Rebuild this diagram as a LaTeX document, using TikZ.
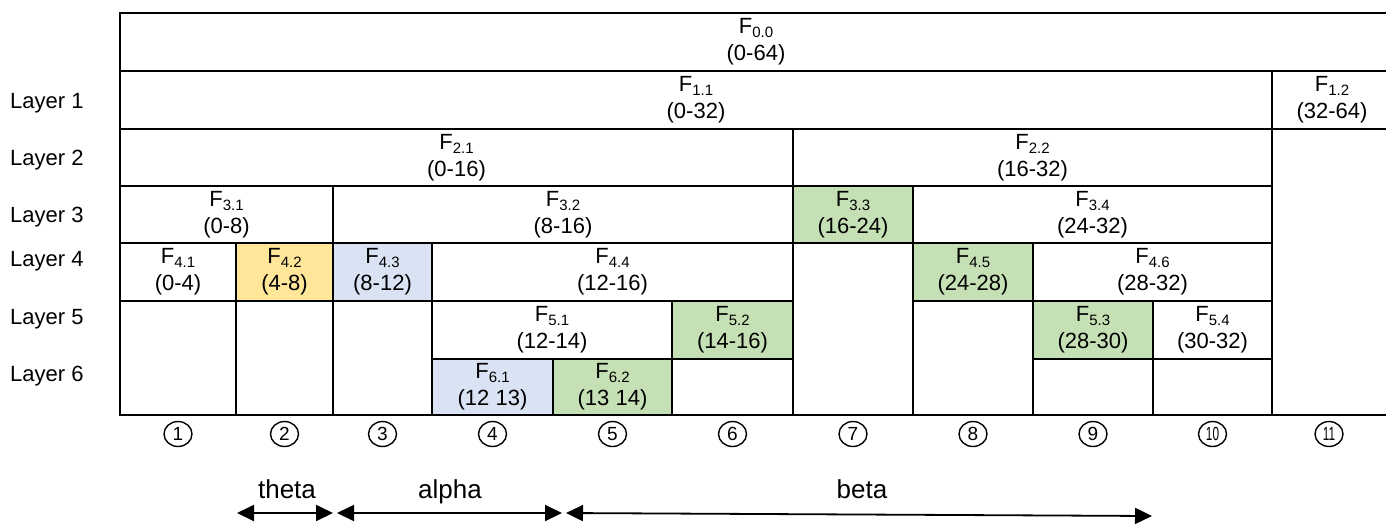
\documentclass[tikz,border=0pt]{standalone}
\usepackage{fontspec}
\setmainfont{Liberation Sans}
\usetikzlibrary{arrows.meta,shapes.geometric}

\definecolor{cellyellow}{HTML}{FFE699}
\definecolor{cellblue}{HTML}{DAE3F3}
\definecolor{cellgreen}{HTML}{C5E0B4}

% frame label with lowered index, e.g. F_{3.1}
\newcommand\Fsub[1]{F\raisebox{-4pt}{\fontsize{15}{15}\selectfont #1}}
% \cellat{name}{x1}{y1}{x2}{y2}{extra style}{text}
\newcommand\cellat[7]{%
  \node[cellbox,#6,minimum width={#4-#2},minimum height={#5-#3}] (#1)
    at ({(#2+#4)/2},{(#3+#5)/2}) {#7};}

\tikzset{
  cellbox/.style={rectangle, draw=black, line width=2.7pt, fill=white,
    inner sep=0pt, outer sep=0pt, align=center,
    font=\fontsize{22}{27}\selectfont},
  yel/.style={fill=cellyellow},
  blu/.style={fill=cellblue},
  grn/.style={fill=cellgreen},
  layerlab/.style={anchor=base west, inner sep=0pt, font=\fontsize{22}{26}\selectfont},
  numc/.style={ellipse, draw=black, line width=1.4pt, minimum width=28pt,
    minimum height=25pt, inner sep=0pt, font=\fontsize{19}{19}\selectfont},
  spanlab/.style={anchor=base, inner sep=0pt, font=\fontsize{26}{30}\selectfont},
  span/.style={line width=1.8pt,
    {Triangle[length=17pt,width=16pt]}-{Triangle[length=17pt,width=16pt]}},
}

\begin{document}
\begin{tikzpicture}[x=1pt,y=-1pt]
\fill[white] (0,0) rectangle (1386,523);
\useasboundingbox (0,0) rectangle (1386,523);

% level 0 and layer 1
\cellat{f00}{120}{13}{1392}{71}{}{\Fsub{0.0}\\(0-64)}
\cellat{f11}{120}{71}{1272}{129}{}{\Fsub{1.1}\\(0-32)}
\cellat{f12}{1272}{71}{1392}{129}{}{\Fsub{1.2}\\(32-64)}
% layer 2
\cellat{f21}{120}{129}{793}{186}{}{\Fsub{2.1}\\(0-16)}
\cellat{f22}{793}{129}{1272}{186}{}{\Fsub{2.2}\\(16-32)}
\cellat{er}{1272}{129}{1392}{415}{}{}
% layer 3
\cellat{f31}{120}{186}{333}{243}{}{\Fsub{3.1}\\(0-8)}
\cellat{f32}{333}{186}{793}{243}{}{\Fsub{3.2}\\(8-16)}
\cellat{f33}{793}{186}{913}{243}{grn}{\Fsub{3.3}\\(16-24)}
\cellat{f34}{913}{186}{1272}{243}{}{\Fsub{3.4}\\(24-32)}
% layer 4
\cellat{f41}{120}{243}{236}{301}{}{\Fsub{4.1}\\(0-4)}
\cellat{f42}{236}{243}{333}{301}{yel}{\Fsub{4.2}\\(4-8)}
\cellat{f43}{333}{243}{432}{301}{blu}{\Fsub{4.3}\\(8-12)}
\cellat{f44}{432}{243}{793}{301}{}{\Fsub{4.4}\\(12-16)}
\cellat{e7}{793}{243}{913}{415}{}{}
\cellat{f45}{913}{243}{1033}{301}{grn}{\Fsub{4.5}\\(24-28)}
\cellat{f46}{1033}{243}{1272}{301}{}{\Fsub{4.6}\\(28-32)}
% layer 5
\cellat{e1}{120}{301}{236}{415}{}{}
\cellat{e2}{236}{301}{333}{415}{}{}
\cellat{e3}{333}{301}{432}{415}{}{}
\cellat{f51}{432}{301}{672}{359}{}{\Fsub{5.1}\\(12-14)}
\cellat{f52}{672}{301}{793}{359}{grn}{\Fsub{5.2}\\(14-16)}
\cellat{e8}{913}{301}{1033}{415}{}{}
\cellat{f53}{1033}{301}{1153}{359}{grn}{\Fsub{5.3}\\(28-30)}
\cellat{f54}{1153}{301}{1272}{359}{}{\Fsub{5.4}\\(30-32)}
% layer 6
\cellat{f61}{432}{359}{553}{415}{blu}{\Fsub{6.1}\\(12 13)}
\cellat{f62}{553}{359}{672}{415}{grn}{\Fsub{6.2}\\(13 14)}
\cellat{e6}{672}{359}{793}{415}{}{}
\cellat{e9}{1033}{359}{1153}{415}{}{}
\cellat{e10}{1153}{359}{1272}{415}{}{}

% layer names
\node[layerlab] (l1) at (10,108) {Layer 1};
\node[layerlab] (l2) at (10,165.5) {Layer 2};
\node[layerlab] (l3) at (10,222.5) {Layer 3};
\node[layerlab] (l4) at (10,266) {Layer 4};
\node[layerlab] (l5) at (10,324) {Layer 5};
\node[layerlab] (l6) at (10,381) {Layer 6};

% column numbers
\node[numc] (n1)  at (178,434)    {1};
\node[numc] (n2)  at (284.5,434)  {2};
\node[numc] (n3)  at (382.5,434)  {3};
\node[numc] (n4)  at (492.5,434)  {4};
\node[numc] (n5)  at (612.5,434)  {5};
\node[numc] (n6)  at (732.5,434)  {6};
\node[numc] (n7)  at (853,434)    {7};
\node[numc] (n8)  at (973,434)    {8};
\node[numc] (n9)  at (1093,434)   {9};
\node[numc] (n10) at (1212.5,434) {\scalebox{0.62}[1]{10}};
\node[numc] (n11) at (1329,434)   {\scalebox{0.62}[1]{11}};

% spans
\node[spanlab] (theta) at (287,498) {theta};
\node[spanlab] (alpha) at (450,498) {alpha};
\node[spanlab] (beta)  at (862,498) {beta};

\coordinate (ta) at (237,513);
\coordinate (tb) at (333,513);
\coordinate (aa) at (337,513);
\coordinate (ab) at (562,513);
\coordinate (ba) at (566,513);
\coordinate (bb) at (1152,516);
\draw[span] (ta) -- (tb);
\draw[span] (aa) -- (ab);
\draw[span] (ba) -- (bb);
\end{tikzpicture}
\end{document}
